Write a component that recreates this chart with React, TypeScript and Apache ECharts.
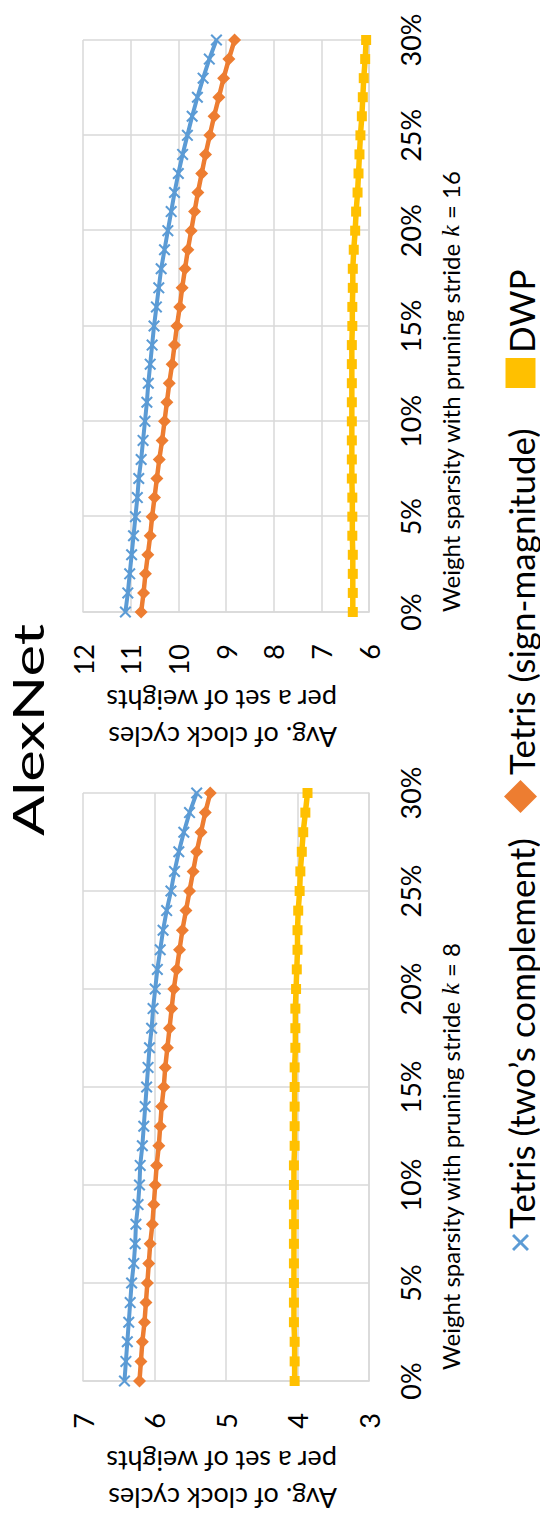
import React, { useEffect, useRef } from "react";
import * as echarts from "echarts";

// ---- data ----
const sparsity = [0, 1, 2, 3, 4, 5, 6, 7, 8, 9, 10, 11, 12, 13, 14, 15, 16, 17, 18, 19, 20, 21, 22, 23, 24, 25, 26, 27, 28, 29, 30];

const seriesNames = ["Tetris (two’s complement)", "Tetris (sign-magnitude)", "DWP"];

const k8Twos = [6.42, 6.40, 6.38, 6.36, 6.34, 6.32, 6.29, 6.27, 6.26, 6.23, 6.21, 6.20, 6.17, 6.15, 6.13, 6.11, 6.09, 6.07, 6.04, 6.02, 5.99, 5.96, 5.92, 5.88, 5.83, 5.77, 5.72, 5.66, 5.59, 5.51, 5.41];
const k8Sign = [6.21, 6.19, 6.17, 6.14, 6.12, 6.10, 6.08, 6.06, 6.03, 6.01, 5.99, 5.97, 5.94, 5.92, 5.90, 5.87, 5.85, 5.82, 5.79, 5.76, 5.73, 5.69, 5.65, 5.61, 5.56, 5.51, 5.46, 5.41, 5.35, 5.29, 5.22];
const k8Dwp = [4.04, 4.04, 4.04, 4.05, 4.05, 4.05, 4.05, 4.05, 4.05, 4.05, 4.05, 4.05, 4.04, 4.04, 4.04, 4.04, 4.04, 4.03, 4.03, 4.03, 4.02, 4.01, 4.00, 4.00, 3.99, 3.97, 3.96, 3.94, 3.92, 3.89, 3.86];

const k16Twos = [11.11, 11.06, 11.02, 10.98, 10.94, 10.90, 10.86, 10.83, 10.78, 10.74, 10.70, 10.66, 10.63, 10.59, 10.55, 10.51, 10.46, 10.41, 10.36, 10.29, 10.22, 10.15, 10.08, 10.00, 9.91, 9.81, 9.71, 9.60, 9.48, 9.35, 9.20];
const k16Sign = [10.78, 10.73, 10.69, 10.64, 10.59, 10.55, 10.50, 10.45, 10.40, 10.34, 10.29, 10.24, 10.19, 10.13, 10.08, 10.03, 9.97, 9.92, 9.86, 9.80, 9.73, 9.66, 9.59, 9.51, 9.43, 9.34, 9.25, 9.15, 9.05, 8.94, 8.82];
const k16Dwp = [6.34, 6.34, 6.34, 6.34, 6.35, 6.35, 6.35, 6.36, 6.36, 6.36, 6.36, 6.36, 6.36, 6.36, 6.36, 6.35, 6.35, 6.34, 6.34, 6.32, 6.29, 6.27, 6.24, 6.22, 6.20, 6.18, 6.15, 6.13, 6.11, 6.08, 6.06];

const titleText = "AlexNet";
const yTitle = "Avg. of clock cycles\nper a set of weights";
const xTitle8 = "Weight sparsity with pruning stride {i|k} = 8";
const xTitle16 = "Weight sparsity with pruning stride {i|k} = 16";

// ---- styles ----
const W = 1516;
const H = 540;
const FONT = "Lato, 'Open Sans', sans-serif";
const BLUE = "#5B9BD5";
const ORANGE = "#ED7D31";
const YELLOW = "#FFC000";
const GRID = "#D9D9D9";
const CROSS = "path://M0,1.2L1.2,0L5,3.8L8.8,0L10,1.2L6.2,5L10,8.8L8.8,10L5,6.2L1.2,10L0,8.8L3.8,5Z";

function pairs(ys: number[]) {
  return sparsity.map((s, i) => [s, ys[i]]);
}

export default function App() {
  const ref = useRef<HTMLDivElement>(null);

  useEffect(() => {
    if (!ref.current) return;
    const chart = echarts.init(ref.current, undefined, { renderer: "svg" });

    const xAxisBase = (gridIndex: number) => ({
      type: "value",
      gridIndex,
      min: 0,
      max: 30,
      interval: 5,
      axisLabel: { formatter: "{value}%", margin: 28, fontSize: 27, color: "#000", fontFamily: FONT },
      axisLine: { show: true, lineStyle: { color: GRID, width: 1.5 } },
      axisTick: { show: false },
      splitLine: { show: true, lineStyle: { color: GRID, width: 1.5 } },
    });
    const yAxisBase = (gridIndex: number, min: number, max: number) => ({
      type: "value",
      gridIndex,
      min,
      max,
      interval: 1,
      axisLabel: { margin: 32, fontSize: 27, color: "#000", fontFamily: FONT },
      axisLine: { show: true, lineStyle: { color: GRID, width: 1.5 } },
      axisTick: { show: false },
      splitLine: { show: true, lineStyle: { color: GRID, width: 1.5 } },
    });

    const lineSeries = (name: string, gi: number, ys: number[], color: string, symbol: string, size: number, width: number, z: number) => ({
      type: "line",
      name,
      xAxisIndex: gi,
      yAxisIndex: gi,
      data: pairs(ys),
      symbol,
      symbolSize: size,
      showAllSymbol: true,
      lineStyle: { color, width },
      itemStyle: { color },
      z,
    });

    const legendText = { fontSize: 35, color: "#000", fontFamily: FONT };
    const richK = { i: { fontStyle: "italic", fontFamily: "'Liberation Serif', serif", fontSize: 26, fill: "#000" } };

    chart.setOption({
      animation: false,
      backgroundColor: "#fff",
      textStyle: { fontFamily: FONT },
      grid: [
        { left: 135, top: 83, width: 588, height: 286 },
        { left: 904, top: 83, width: 572, height: 286 },
      ],
      xAxis: [xAxisBase(0), xAxisBase(1)],
      yAxis: [yAxisBase(0, 3, 7), yAxisBase(1, 6, 12)],
      legend: [
        { data: [seriesNames[0]], left: 265, top: 503, padding: 0, itemWidth: 17, itemHeight: 17, icon: CROSS, itemGap: 0, selectedMode: false, textStyle: legendText },
        { data: [seriesNames[1]], left: 703, top: 503, padding: 0, itemWidth: 33, itemHeight: 33, icon: "diamond", itemGap: 0, selectedMode: false, textStyle: legendText },
        { data: [seriesNames[2]], left: 1128, top: 503, padding: 0, itemWidth: 30, itemHeight: 30, icon: "rect", itemGap: 0, selectedMode: false, textStyle: legendText },
      ],
      series: [
        lineSeries(seriesNames[2], 0, k8Dwp, YELLOW, "rect", 10, 5.5, 2),
        lineSeries(seriesNames[1], 0, k8Sign, ORANGE, "diamond", 13, 4.5, 3),
        lineSeries(seriesNames[0], 0, k8Twos, BLUE, CROSS, 12, 4, 4),
        lineSeries(seriesNames[2], 1, k16Dwp, YELLOW, "rect", 10, 5.5, 2),
        lineSeries(seriesNames[1], 1, k16Sign, ORANGE, "diamond", 13, 4.5, 3),
        lineSeries(seriesNames[0], 1, k16Twos, BLUE, CROSS, 12, 4, 4),
      ],
      graphic: [
        {
          type: "text",
          x: 786,
          y: 28,
          scaleX: 1.42,
          style: { text: titleText, fontSize: 42, fontFamily: FONT, fill: "#000", align: "center", verticalAlign: "middle" },
        },
        {
          type: "text",
          x: 36,
          y: 337,
          rotation: Math.PI / 2,
          style: { text: yTitle, fontSize: 27, lineHeight: 37, fontFamily: FONT, fill: "#000", align: "left", verticalAlign: "middle" },
        },
        {
          type: "text",
          x: 797,
          y: 337,
          rotation: Math.PI / 2,
          style: { text: yTitle, fontSize: 27, lineHeight: 37, fontFamily: FONT, fill: "#000", align: "left", verticalAlign: "middle" },
        },
        {
          type: "text",
          x: 146,
          y: 450,
          style: { text: xTitle8, fontSize: 24, fontFamily: FONT, fill: "#000", align: "left", verticalAlign: "middle", rich: richK },
        },
        {
          type: "text",
          x: 904,
          y: 450,
          style: { text: xTitle16, fontSize: 24, fontFamily: FONT, fill: "#000", align: "left", verticalAlign: "middle", rich: richK },
        },
      ],
    });

    return () => chart.dispose();
  }, []);

  return (
    <div style={{ position: "absolute", left: 0, top: 0, width: H, height: W, overflow: "hidden", background: "#fff" }}>
      <div
        ref={ref}
        style={{
          position: "absolute",
          left: 0,
          top: 0,
          width: W,
          height: H,
          transformOrigin: "0 0",
          transform: `translateY(${W}px) rotate(-90deg)`,
        }}
      />
    </div>
  );
}
